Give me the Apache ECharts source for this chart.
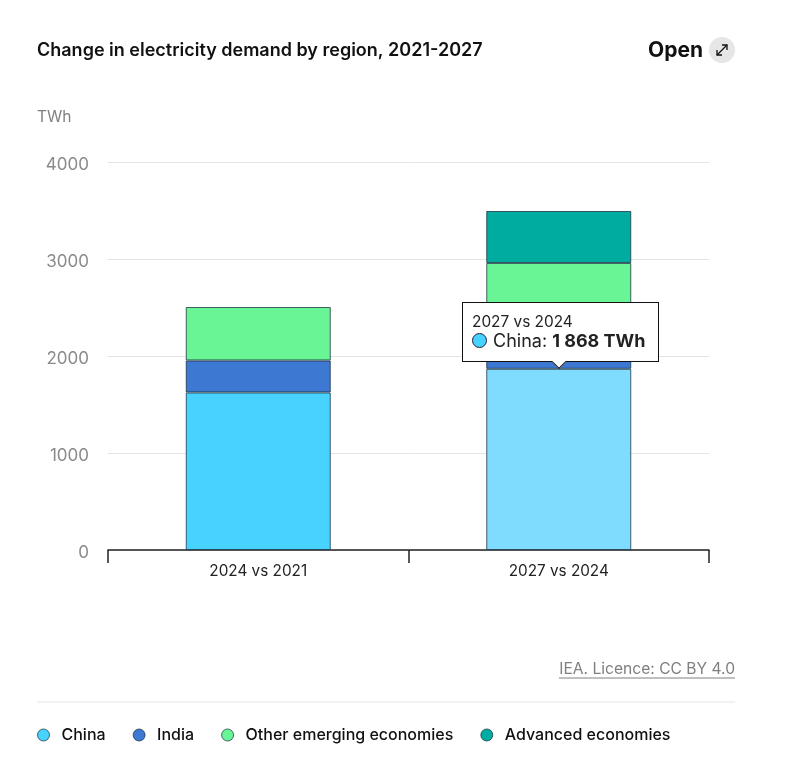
<!DOCTYPE html>
<html><head><meta charset="utf-8">
<style>html,body{margin:0;padding:0;background:#fff}#c{width:788px;height:770px}</style>
<script src="https://cdn.jsdelivr.net/npm/echarts@6/dist/echarts.min.js"></script>
</head><body><div id="c"></div>
<script>
const categories = ['2024 vs 2021', '2027 vs 2024'];
const china = [1624, 1868];
const india = [330, 340];
const otherEmerging = [551, 751];
const advanced = [0, 536];
const yTicks = [0, 1000, 2000, 3000, 4000];
const colors = {China:'#48D2FF', India:'#3D78D2', 'Other emerging economies':'#69F595', 'Advanced economies':'#00AB9F'};
const FONT = 'Inter, "Noto Sans", sans-serif';
const chart = echarts.init(document.getElementById('c'), null, {renderer:'canvas'});
const barBorder = {borderColor:'rgba(20,45,60,0.75)', borderWidth:1};
function mk(name, values, stylePerItem){
  return {name, type:'bar', stack:'t', barWidth:145, animation:false,
    itemStyle:Object.assign({color:colors[name]}, barBorder),
    emphasis:{disabled:true},
    data:values.map((v,i)=>{
      const d={value:v===0?null:v};
      if(stylePerItem && stylePerItem[i]) d.itemStyle=stylePerItem[i];
      return d;
    })};
}
chart.setOption({
  animation:false,
  textStyle:{fontFamily:FONT},
  grid:{left:108, right:79, top:162, height:388},
  title:{text:'Change in electricity demand by region, 2021-2027', left:32, top:37,
    textStyle:{fontFamily:FONT,fontSize:18,fontWeight:600,color:'#111'}},
  legend:{left:32, top:722, itemWidth:12, itemHeight:12, itemGap:27, icon:'circle', selectedMode:false,
    data:Object.keys(colors),
    itemStyle:{borderColor:'rgba(20,45,60,0.7)',borderWidth:1},
    textStyle:{fontFamily:FONT,fontSize:16,fontWeight:500,color:'#111',padding:[0,0,0,7]}},
  tooltip:{trigger:'item', alwaysShowContent:true, showDelay:0, transitionDuration:0,
    backgroundColor:'#fff', borderColor:'#111', borderWidth:1.5, padding:0,
    extraCssText:'border-radius:0;box-shadow:none;overflow:visible;',
    position:(p,params,dom,rect,size)=>[rect.x+rect.width/2-size.contentSize[0]/2+1.5, rect.y-size.contentSize[1]-7],
    formatter:(p)=>`<div style="position:relative;padding:9px 13px 11px 9px;font-family:${FONT.replace(/"/g,"'")};color:#222;line-height:19px;white-space:nowrap">
      <div style="font-size:15.4px">${p.name}</div>
      <div style="font-size:18px;display:flex;align-items:center"><span style="display:inline-block;width:13px;height:13px;border-radius:50%;background:${colors[p.seriesName]};border:1px solid #223;margin-right:6px"></span>${p.seriesName}:&nbsp;<b>${String(p.value).replace(/\B(?=(\d{3})+$)/g,' ')} TWh</b></div>
      <div style="position:absolute;left:50%;bottom:-6px;width:9px;height:9px;margin-left:-7px;background:#fff;border-right:1.5px solid #111;border-bottom:1.5px solid #111;transform:rotate(45deg)"></div>
    </div>`},
  xAxis:{type:'category', data:categories,
    axisLine:{lineStyle:{color:'#222',width:1.5}},
    axisTick:{show:true,length:13,alignWithLabel:false,lineStyle:{color:'#222',width:1.5}},
    axisLabel:{fontFamily:FONT,fontSize:15.3,color:'#222',margin:14}},
  yAxis:{type:'value', min:yTicks[0], max:yTicks[yTicks.length-1], interval:1000,
    axisLine:{show:false}, axisTick:{show:false},
    splitLine:{lineStyle:{color:'#e4e4e4',width:1}},
    axisLabel:{margin:19,formatter:(v)=>`{n|${v}}`,
      rich:{n:{fontFamily:FONT,fontSize:17,color:'#8a8a8a',padding:[6,0,0,0]}}}},
  series:[
    mk('China', china, [null,{color:'#80DCFF'}]),
    mk('India', india),
    mk('Other emerging economies', otherEmerging),
    mk('Advanced economies', advanced)
  ],
  graphic:[
    {type:'text',left:37,top:109,style:{text:'TWh',fontFamily:FONT,fontSize:15.5,fill:'#808080'}},
    {type:'text',right:85,top:40.5,style:{text:'Open',fontFamily:FONT,fontSize:21,fontWeight:700,fill:'#111'}},
    {type:'circle',shape:{cx:722,cy:50,r:13},style:{fill:'#e6e6e6'}},
    {type:'polyline',shape:{points:[[717,55],[727,45]]},style:{stroke:'#111',lineWidth:1.3,fill:null}},
    {type:'polyline',shape:{points:[[722,45],[727,45],[727,50]]},style:{stroke:'#111',lineWidth:1.3,fill:null}},
    {type:'polyline',shape:{points:[[717,50],[717,55],[722,55]]},style:{stroke:'#111',lineWidth:1.3,fill:null}},
    {type:'text',right:53,top:661.5,style:{text:'IEA. Licence: CC BY 4.0',fontFamily:FONT,fontSize:15.6,fill:'#808080'}},
    {type:'line',shape:{x1:559,y1:678,x2:735,y2:678},style:{stroke:'#808080',lineWidth:1}},
    {type:'line',shape:{x1:37,y1:702,x2:735,y2:702},style:{stroke:'#e6e6e6',lineWidth:1}}
  ]
});
chart.dispatchAction({type:'showTip',seriesIndex:0,dataIndex:1});
</script></body></html>
